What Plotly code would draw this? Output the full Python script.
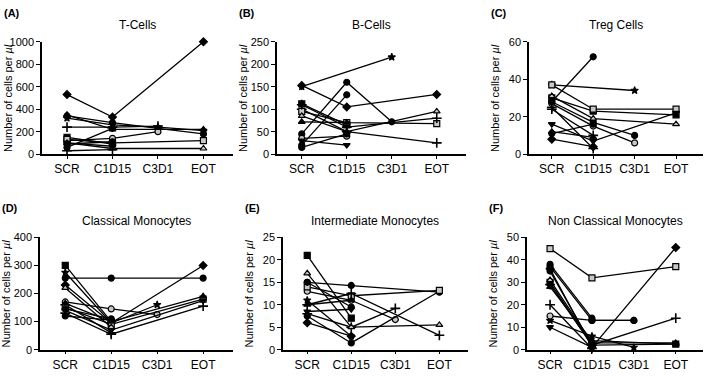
import plotly.graph_objects as go

visits = ["SCR", "C1D15", "C3D1", "EOT"]

symbols = ["diamond", "circle", "star", "cross-thin", "square", "circle",
           "circle", "square", "triangle-up", "triangle-down", "cross-thin", "triangle-up", "circle"]
hollow = [False, False, False, False, False, True, False, True, True, False, False, False, False]

N = None
tcells = [
    [530, 330, N, 1000], [340, 280, 230, 180], [320, 260, 240, 210], [240, 240, 250, N],
    [150, 90, N, N], [120, 140, 200, N], [60, 230, N, N], [130, 100, N, 120],
    [100, 50, N, 50], [100, 70, N, N], [30, 40, N, N], [350, 220, N, 220], [90, 110, N, N],
]
bcells = [
    [153, 105, N, 133], [45, 160, 72, N], [150, N, 216, N], [100, 50, N, 25],
    [112, 65, N, N], [35, 40, N, N], [20, 132, N, N], [95, 70, N, 68],
    [85, 50, N, 95], [30, 20, N, N], [110, 60, N, 80], [72, 70, N, N], [15, 45, N, N],
]
tregs = [
    [8, 4, N, N], [28, 17, 10, N], [37, N, 34, N], [24, 10, N, N],
    [30, 23, N, 21], [27, 15, 6, N], [28, 52, N, N], [37, 24, N, 24],
    [31, 19, N, 16], [16, 7, N, 22], [25, 3, N, N], [12, 9, N, N], [11, 16, N, N],
]
classical = [
    [230, 95, N, 300], [255, 255, N, 255], [275, 95, 160, N], [160, 60, N, N],
    [300, 100, N, N], [170, 145, 125, N], [120, 105, N, N], [150, 90, N, 180],
    [220, 80, N, N], [140, 70, N, 175], [130, 55, N, 155], [165, 100, N, 190], [145, 110, N, N],
]
intermediate = [
    [6, 3, N, N], [15, 14.3, N, 12.8], [11, 3, N, N], [8, 5, 9.2, N],
    [21, 7, N, N], [13, 11, 6.7, N], [7.5, 1.5, N, 13], [14, 12, N, 13.2],
    [17, 5, N, 5.5], [8.5, 9, N, N], [10, 12.5, N, 3.2], [10, 11, N, N], [15, 9.5, N, N],
]
nonclassical = [
    [36, 1, N, 45.5], [38, 14, N, N], [13, 6, 1, N], [29, 2, N, 14],
    [30, 2, N, 2.5], [15, 13, 13, N], [37, 13, 13, N], [45, 32, N, 37],
    [31, 3, N, 3], [10, 1, N, N], [20, 0.5, N, N], [28, 4, N, 2.5], [35, 2, N, N],
]

panels = [
    ("(A)", "T-Cells", tcells, 1000, 200),
    ("(B)", "B-Cells", bcells, 250, 50),
    ("(C)", "Treg Cells", tregs, 60, 20),
    ("(D)", "Classical Monocytes", classical, 400, 100),
    ("(E)", "Intermediate Monocytes", intermediate, 25, 5),
    ("(F)", "Non Classical Monocytes", nonclassical, 50, 10),
]

W, H = 709, 376
xdom_px = [(42, 233), (277, 466), (529, 703), (40, 233), (283, 468), (527, 703)]
ydom_px = [(37, 153), (37, 153), (37, 153), (239, 355), (239, 355), (239, 355)]

fig = go.Figure()
font_family = "Liberation Sans, Arial, sans-serif"
annotations = []
for i, (lab, title, data, ymax, dtick) in enumerate(panels):
    n = i + 1
    xa = "x" if n == 1 else f"x{n}"
    ya = "y" if n == 1 else f"y{n}"
    for j, row in enumerate(data):
        sym = symbols[j % len(symbols)]
        hol = hollow[j % len(hollow)]
        size = 7 if sym == "cross-thin" else (5.5 if sym == "star" else 6)
        fig.add_trace(go.Scatter(
            x=visits, y=row, mode="lines+markers", connectgaps=True,
            line=dict(color="black", width=1.3),
            marker=dict(symbol=sym, size=size, color="#c8c8c8" if hol else "black",
                        line=dict(color="black", width=1.6 if sym == "cross-thin" else 1.2)),
            xaxis=xa, yaxis=ya, showlegend=False, cliponaxis=False,
        ))
    x0, x1 = xdom_px[i]
    y0, y1 = ydom_px[i]
    xd = [x0 / W, x1 / W]
    yd = [1 - y1 / H, 1 - y0 / H]
    fig.layout[f"xaxis{'' if n == 1 else n}"] = dict(
        domain=xd, anchor=ya, type="category", categoryorder="array", categoryarray=visits,
        range=[-0.55, 3.65], showline=True, linecolor="black", linewidth=1.5,
        ticks="outside", ticklen=3, tickwidth=1.2, tickcolor="black",
        showgrid=False, zeroline=False, tickfont=dict(size=12, color="black", family=font_family),
    )
    fig.layout[f"yaxis{'' if n == 1 else n}"] = dict(
        domain=yd, anchor=xa, range=[0, ymax], dtick=dtick, showline=True, linecolor="black",
        linewidth=1.5, ticks="outside", ticklen=4, tickwidth=1.2, tickcolor="black",
        showgrid=False, zeroline=False, tickfont=dict(size=11, color="black", family=font_family),
    )
    cx = (x0 + x1) / 2
    annotations.append(dict(text=title, x=cx / W, y=1 - (y0 - 17) / H, xref="paper", yref="paper",
                            showarrow=False, xanchor="center", yanchor="middle",
                            font=dict(size=12, color="black", family=font_family)))
    annotations.append(dict(text=f"<b>{lab}</b>", x=(x0 - 40) / W, y=1 - (y0 - 30) / H,
                            xref="paper", yref="paper", showarrow=False, xanchor="left",
                            yanchor="middle", font=dict(size=11, color="black", family=font_family)))
    annotations.append(dict(text="Number of cells per <i>µl</i>", x=(x0 - 34) / W,
                            y=1 - ((y0 + y1) / 2) / H, xref="paper", yref="paper", showarrow=False,
                            textangle=-90, xanchor="center", yanchor="middle",
                            font=dict(size=11, color="black", family=font_family)))

fig.update_layout(width=W, height=H, margin=dict(l=0, r=0, t=0, b=0),
                  plot_bgcolor="white", paper_bgcolor="white", annotations=annotations)
fig.write_html("out.html", config={"displayModeBar": False}, post_script=(
    "document.body.style.margin='0px';"
    "var d=document.getElementById('{plot_id}');"
    "d.style.position='absolute';d.style.top='0px';d.style.left='0px';"))
